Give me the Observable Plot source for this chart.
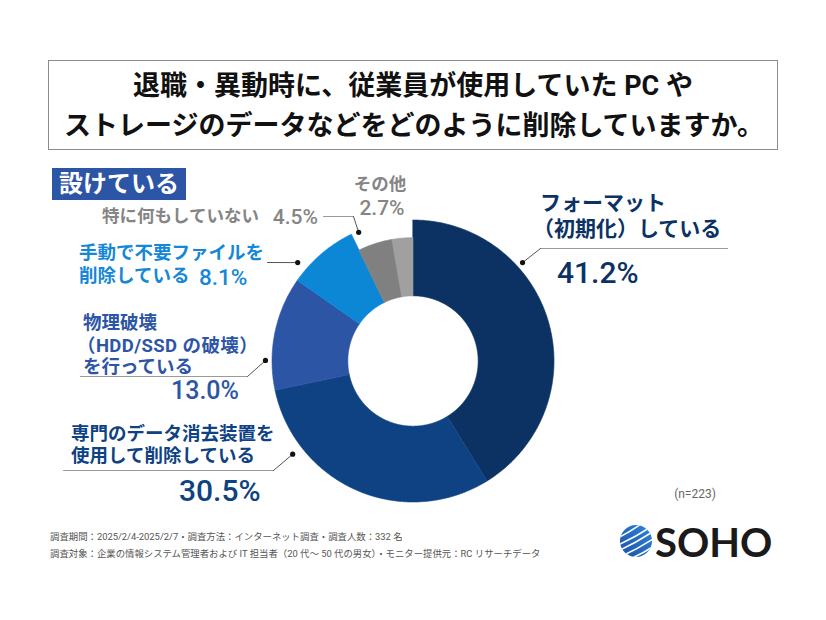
<!DOCTYPE html>
<html><head><meta charset="utf-8">
<script src="https://cdn.jsdelivr.net/npm/d3@7"></script>
<script src="https://cdn.jsdelivr.net/npm/@observablehq/plot@0.6"></script>
<style>
body{margin:0;background:#fff;}
#wrap{position:relative;width:826px;height:620px;overflow:hidden;background:#fff;font-family:Roboto,"Noto Sans CJK JP",sans-serif;}
#wrap svg.plot{position:absolute;left:0;top:0;}
.t{position:absolute;white-space:nowrap;font-weight:700;}
</style></head><body><div id="wrap"></div>
<script>
// ---- data ----
const titleLines = ["退職・異動時に、従業員が使用していた PC や", "ストレージのデータなどをどのように削除していますか。"];
const tagText = "設けている";
const categories = ["フォーマット（初期化）している", "専門のデータ消去装置を使用して削除している", "物理破壊（HDD/SSD の破壊）を行っている", "手動で不要ファイルを削除している", "特に何もしていない", "その他"];
const values = [41.2, 30.5, 13.0, 8.1, 4.5, 2.7];
const labelLines = [
  ["フォーマット", "（初期化）している"],
  ["専門のデータ消去装置を", "使用して削除している"],
  ["物理破壊", "（HDD/SSD の破壊）", "を行っている"],
  ["手動で不要ファイルを", "削除している"],
  ["特に何もしていない"],
  ["その他"]
];
const sampleNote = "(n=223)";
const footnotes = ["調査期間：2025/2/4-2025/2/7・調査方法：インターネット調査・調査人数：332 名", "調査対象：企業の情報システム管理者および IT 担当者（20 代～ 50 代の男女）・モニター提供元：RC リサーチデータ"];

// ---- style / layout ----
const sliceColors = ["#0c3264", "#0e4282", "#2d55a6", "#0c87d6", "#808080", "#a0a0a0"];
const textColors = ["#0c3264", "#0e4282", "#2d55a6", "#1587d6", "#858585", "#858585"];
const outerR = [1, 1, 1, 1, 0.875, 0.875];
const innerR = 0.462;
const W = 826, H = 620, CX = 413, CY = 361, UNIT = 141;
const ux = px => (px - CX) / UNIT, uy = py => (CY - py) / UNIT;

const total = d3.sum(values);
const arcPts = [];
let acc = 0;
values.forEach((v, i) => {
  const a0 = acc / total * 2 * Math.PI, a1 = (acc + v) / total * 2 * Math.PI;
  acc += v;
  const n = Math.max(4, Math.ceil((a1 - a0) / (Math.PI / 360)));
  for (let k = 0; k <= n; k++) {
    const a = a0 + (a1 - a0) * k / n;
    arcPts.push({cat: categories[i], x1: outerR[i] * Math.sin(a), y1: outerR[i] * Math.cos(a), x2: innerR * Math.sin(a), y2: innerR * Math.cos(a)});
  }
});

// leader lines: dot (angle deg, radius) -> elbow -> end (pixels)
const leaders = [
  {ang: 47.8, r: 1.044, pts: [[540, 248], [727, 248]]},
  {ang: 232.5, r: 1.08, pts: [[273, 470], [63, 470]]},
  {ang: 270.4, r: 1.05, pts: [[247, 376], [80, 376]]},
  {ang: 310.5, r: 1.08, pts: [[267, 262]]},
  {ang: 337, r: 0.995, pts: [[353, 216], [323, 216]]}
];
const dotPts = leaders.map((l, i) => ({id: i, x: l.r * Math.sin(l.ang * Math.PI / 180), y: l.r * Math.cos(l.ang * Math.PI / 180)}));
const diagPts = [], hrPts = [];
leaders.forEach((l, i) => {
  const d = dotPts[i];
  diagPts.push({id: i, x: d.x, y: d.y}, {id: i, x: ux(l.pts[0][0]), y: uy(l.pts[0][1])});
  if (l.pts.length > 1) l.pts.forEach(p => hrPts.push({id: i, x: ux(p[0]), y: uy(p[1])}));
});

const chart = Plot.plot({
  width: W, height: H, margin: 0,
  x: {domain: [ux(0), ux(W)], axis: null},
  y: {domain: [uy(H), uy(0)], axis: null},
  color: {type: "ordinal", domain: categories, range: sliceColors},
  marks: [
    Plot.area(arcPts, {x1: "x1", y1: "y1", x2: "x2", y2: "y2", z: "cat", fill: "cat", stroke: "cat", strokeWidth: 0.6}),
    Plot.line(hrPts, {x: "x", y: "y", z: "id", stroke: "#9a9a9a", strokeWidth: 1}),
    Plot.line(diagPts, {x: "x", y: "y", z: "id", stroke: "#555", strokeWidth: 1}),
    Plot.dot(dotPts, {x: "x", y: "y", r: 2.6, fill: "#111", stroke: "none"})
  ]
});
chart.classList.add("plot");
const wrap = document.getElementById("wrap");
wrap.appendChild(chart);

function txt(s, o) {
  const d = document.createElement("div");
  d.className = "t";
  d.textContent = s;
  const f = o.size;
  d.style.fontSize = f + "px";
  d.style.lineHeight = f + "px";
  d.style.height = f + "px";
  d.style.top = (o.y - f / 2) + "px";
  d.style.color = o.color || "#111";
  if (o.weight) d.style.fontWeight = o.weight;
  if (o.family) d.style.fontFamily = o.family;
  if (o.ls) d.style.letterSpacing = o.ls + "px";
  if (o.anchor === "middle") { d.style.left = o.x + "px"; d.style.transform = "translateX(-50%)"; }
  else if (o.anchor === "end") { d.style.right = (W - o.x) + "px"; }
  else d.style.left = o.x + "px";
  wrap.appendChild(d);
  return d;
}
const pct = v => v.toFixed(1) + "%";

// title box
const box = document.createElement("div");
Object.assign(box.style, {position: "absolute", left: "48px", top: "60px", width: "728px", height: "88px", border: "1.5px solid #8c8c8c"});
wrap.appendChild(box);
txt(titleLines[0], {x: 413, y: 86, size: 27, anchor: "middle", color: "#111"});
txt(titleLines[1], {x: 414, y: 126, size: 27, anchor: "middle", color: "#111"});

// tag
const tag = document.createElement("div");
Object.assign(tag.style, {position: "absolute", left: "52px", top: "168px", width: "134px", height: "32px", background: "#2d55a6"});
wrap.appendChild(tag);
txt(tagText, {x: 119, y: 184, size: 24, anchor: "middle", color: "#fff"});

// slice labels
const big = 30;
// 0 フォーマット
txt(labelLines[0][0], {x: 540, y: 203, size: 21, color: textColors[0]});
txt(labelLines[0][1], {x: 533, y: 229, size: 21, color: textColors[0]});
txt(pct(values[0]), {x: 557, y: 273, size: big, color: textColors[0], weight: 500});
// 1 専門
txt(labelLines[1][0], {x: 71, y: 434, size: 18.5, color: textColors[1]});
txt(labelLines[1][1], {x: 71, y: 456, size: 18.5, color: textColors[1]});
txt(pct(values[1]), {x: 179, y: 491, size: big, color: textColors[1], weight: 500});
// 2 物理破壊
txt(labelLines[2][0], {x: 83, y: 323, size: 18.5, color: textColors[2]});
txt(labelLines[2][1], {x: 77, y: 346, size: 18.5, color: textColors[2], ls: 0.4});
txt(labelLines[2][2], {x: 83, y: 367, size: 18.5, color: textColors[2]});
txt(pct(values[2]), {x: 171, y: 390, size: 25, color: textColors[2], weight: 500});
// 3 手動
txt(labelLines[3][0], {x: 79, y: 253, size: 18.5, color: textColors[3]});
txt(labelLines[3][1], {x: 79, y: 276, size: 18.5, color: textColors[3]});
txt(pct(values[3]), {x: 199, y: 277, size: 22.5, color: textColors[3], weight: 500});
// 4 特に何も
txt(labelLines[4][0], {x: 102, y: 217, size: 17.5, color: textColors[4]});
txt(pct(values[4]), {x: 318, y: 217, size: 21, color: textColors[4], anchor: "end", weight: 500});
// 5 その他
txt(labelLines[5][0], {x: 380, y: 185, size: 17.5, color: textColors[5], anchor: "middle"});
txt(pct(values[5]), {x: 382, y: 208, size: 21, color: textColors[5], anchor: "middle", weight: 500});

// notes
txt(sampleNote, {x: 695, y: 494, size: 12, anchor: "middle", color: "#666", weight: 400});
txt(footnotes[0], {x: 50, y: 537, size: 9.4, color: "#555", weight: 400});
txt(footnotes[1], {x: 50, y: 554, size: 9.4, color: "#555", weight: 400});

// logo
const ns = "http://www.w3.org/2000/svg";
const logo = document.createElementNS(ns, "svg");
logo.setAttribute("width", 40); logo.setAttribute("height", 40);
Object.assign(logo.style, {position: "absolute", left: "616px", top: "521px"});
logo.innerHTML = `<defs><linearGradient id="lg" x1="0" y1="1" x2="1" y2="0"><stop offset="0" stop-color="#1b4fa8"/><stop offset="1" stop-color="#2f86d8"/></linearGradient>
<clipPath id="cp"><circle cx="20" cy="20" r="16"/></clipPath></defs>
<circle cx="20" cy="20" r="16" fill="url(#lg)"/>
<g clip-path="url(#cp)" fill="none" stroke="#fff" stroke-width="1.6">
<path d="M2 30 Q20 22 38 10"/><path d="M2 24 Q20 16 38 4"/><path d="M4 36 Q22 28 40 16"/><path d="M8 40 Q26 34 42 22"/><path d="M0 18 Q16 10 32 -2"/></g>`;
wrap.appendChild(logo);
txt("SOHO", {x: 655, y: 542, size: 40, color: "#1a1a1a", family: "Lato, sans-serif", weight: 700});
</script></body></html>
